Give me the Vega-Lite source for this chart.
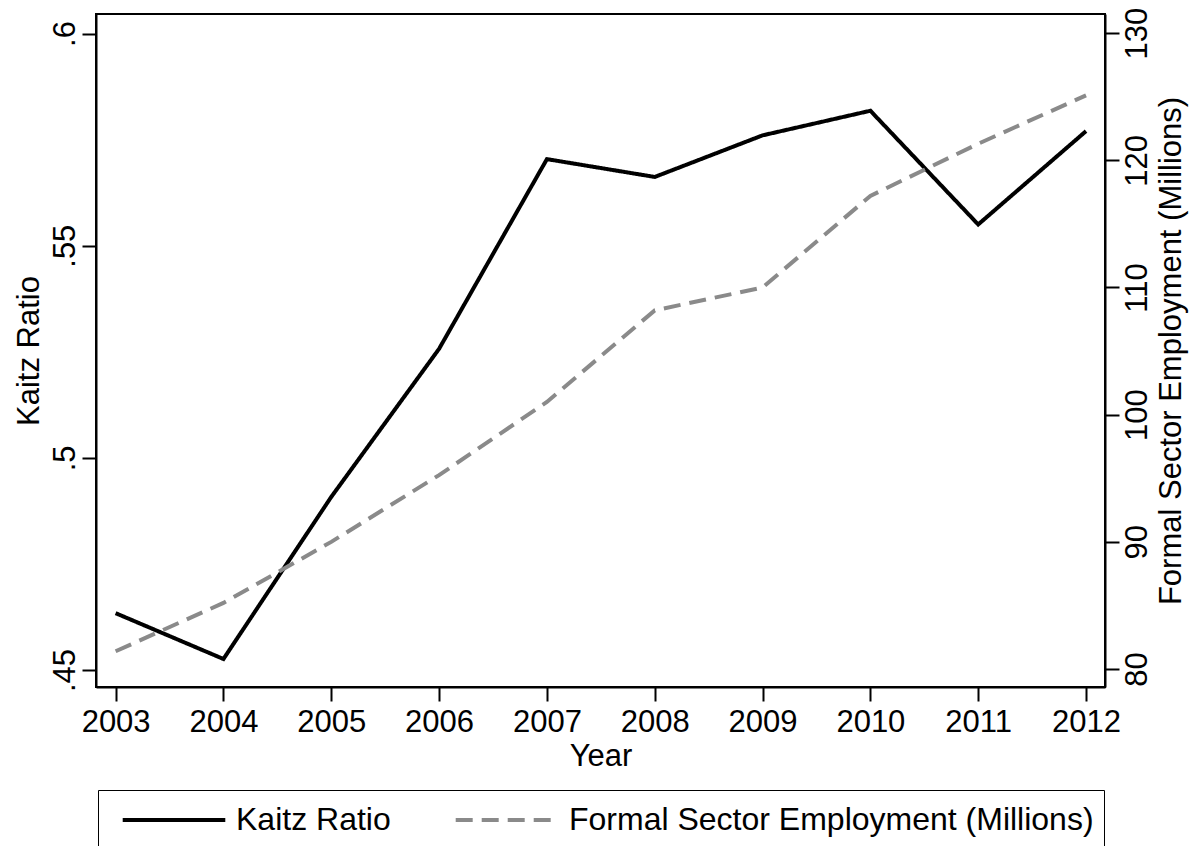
{
  "$schema": "https://vega.github.io/schema/vega-lite/v6.json",
  "width": 1009,
  "height": 673,
  "autosize": {"type": "none"},
  "padding": {"left": 96, "top": 14, "right": 90, "bottom": 159},
  "background": "white",
  "config": {
    "font": "Liberation Sans",
    "view": {"stroke": "black", "strokeWidth": 2},
    "axis": {
      "domainColor": "black",
      "domainWidth": 2,
      "tickColor": "black",
      "tickWidth": 2,
      "tickSize": 14,
      "grid": false,
      "labelFont": "Liberation Sans",
      "labelFontSize": 31,
      "labelColor": "black",
      "labelPadding": 6,
      "titleFont": "Liberation Sans",
      "titleFontSize": 31,
      "titleFontWeight": "normal",
      "titleColor": "black"
    },
    "legend": {
      "orient": "none",
      "legendX": 2,
      "legendY": 776,
      "direction": "horizontal",
      "strokeColor": "black",
      "padding": 10,
      "symbolType": "M-2.85,0H2.85",
      "symbolSize": 1296,
      "symbolStrokeWidth": 4,
      "symbolOffset": 46,
      "labelFont": "Liberation Sans",
      "labelFontSize": 32,
      "labelColor": "black",
      "labelOffset": 42,
      "labelLimit": 0,
      "columnPadding": 50
    }
  },
  "data": {
    "values": [
      {"year": 2003, "kaitz": 0.4634, "emp": 81.4},
      {"year": 2004, "kaitz": 0.4526, "emp": 85.2},
      {"year": 2005, "kaitz": 0.4908, "emp": 90.0},
      {"year": 2006, "kaitz": 0.5257, "emp": 95.25},
      {"year": 2007, "kaitz": 0.5704, "emp": 101.0},
      {"year": 2008, "kaitz": 0.5662, "emp": 108.2},
      {"year": 2009, "kaitz": 0.5760, "emp": 110.0},
      {"year": 2010, "kaitz": 0.5818, "emp": 117.2},
      {"year": 2011, "kaitz": 0.5550, "emp": 121.3},
      {"year": 2012, "kaitz": 0.5770, "emp": 125.1}
    ]
  },
  "encoding": {
    "x": {
      "field": "year",
      "type": "quantitative",
      "title": "Year",
      "scale": {"domain": [2002.818, 2012.176], "nice": false, "zero": false},
      "axis": {"values": [2003, 2004, 2005, 2006, 2007, 2008, 2009, 2010, 2011, 2012], "format": "d", "titlePadding": 4, "labelPadding": 6}
    }
  },
  "layer": [
    {
      "mark": {"type": "line", "strokeWidth": 4, "strokeJoin": "miter"},
      "encoding": {
        "y": {
          "field": "kaitz",
          "type": "quantitative",
          "title": "Kaitz Ratio",
          "scale": {"domain": [0.446, 0.6046], "nice": false, "zero": false},
          "axis": {
            "orient": "left",
            "values": [0.45, 0.5, 0.55, 0.6],
            "labelExpr": "slice(format(datum.value, '.2~f'), 1)",
            "labelAngle": 270,
            "labelAlign": "center",
            "labelBaseline": "bottom",
            "labelPadding": 1,
            "titlePadding": 4
          }
        },
        "color": {
          "datum": "Kaitz Ratio",
          "type": "nominal",
          "scale": {"domain": ["Kaitz Ratio", "Formal Sector Employment (Millions)"], "range": ["#000000", "#8a8a8a"]},
          "legend": {"title": null}
        },
        "strokeDash": {
          "datum": "Kaitz Ratio",
          "type": "nominal",
          "scale": {"domain": ["Kaitz Ratio", "Formal Sector Employment (Millions)"], "range": [[1, 0], [17, 9]]},
          "legend": {"title": null}
        }
      }
    },
    {
      "mark": {"type": "line", "strokeWidth": 4, "strokeJoin": "miter"},
      "encoding": {
        "y": {
          "field": "emp",
          "type": "quantitative",
          "title": "Formal Sector Employment (Millions)",
          "scale": {"domain": [78.59, 131.5], "nice": false, "zero": false},
          "axis": {
            "orient": "right",
            "values": [80, 90, 100, 110, 120, 130],
            "labelAngle": 270,
            "labelAlign": "center",
            "labelBaseline": "top",
            "labelPadding": 3,
            "titleAngle": 270,
            "titleBaseline": "top",
            "titlePadding": 4
          }
        },
        "color": {"datum": "Formal Sector Employment (Millions)", "type": "nominal"},
        "strokeDash": {"datum": "Formal Sector Employment (Millions)", "type": "nominal"}
      }
    }
  ],
  "resolve": {"scale": {"y": "independent"}}
}
